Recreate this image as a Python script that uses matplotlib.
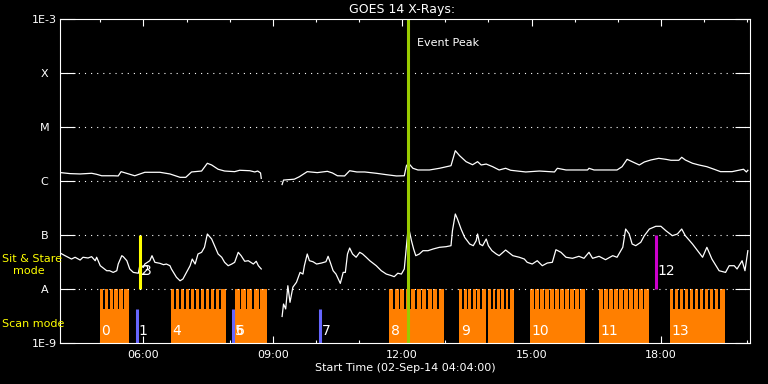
import numpy as np
import matplotlib
matplotlib.use("Agg")
import matplotlib.pyplot as plt
from matplotlib.ticker import NullLocator

nan = np.nan
# time axis: minutes after 02-Sep-14 04:04:00
long_t = [1, 14, 28, 44, 51, 58, 74, 81, 85, 104, 118, 139, 153, 167, 175, 183, 197, 205, 211, 220,
          229, 243, 250, 264, 271, 275, 279, 280, nan, 309, 311, 326, 333, 344, 358, 372, 379, 386, 396,
          403, 413, 424, 440, 454, 468, 479, 482, 485, 491, 498, 514, 528, 544, 550, 556, 565, 574, 581,
          586, 593, 602, 611, 620, 627, 648, 667, 688, 692, 704, 734, 736, 743, 775, 782, 789, 796, 806,
          813, 822, 833, 843, 850, 861, 865, 870, 880, 889, 900, 910, 919, 935, 951, 955, 957]
long_f = [1.43, 1.37, 1.35, 1.39, 1.33, 1.25, 1.25, 1.24, 1.49, 1.25, 1.45, 1.45, 1.35, 1.17, 1.17, 1.47,
          1.53, 2.13, 1.98, 1.65, 1.53, 1.49, 1.58, 1.55, 1.47, 1.53, 1.41, 1.12, nan, 0.86, 1.04, 1.08,
          1.20, 1.49, 1.43, 1.51, 1.41, 1.25, 1.24, 1.55, 1.47, 1.47, 1.39, 1.31, 1.24, 1.25, 1.92, 2.13,
          1.72, 1.60, 1.60, 1.72, 1.92, 3.64, 2.94, 2.28, 2.00, 2.28, 1.98, 2.06, 1.84, 1.60, 1.72, 1.58,
          1.47, 1.53, 1.47, 1.72, 1.60, 1.60, 1.72, 1.60, 1.60, 1.84, 2.52, 2.28, 1.98, 2.25, 2.45, 2.63,
          2.52, 2.42, 2.42, 2.75, 2.45, 2.13, 1.98, 1.84, 1.65, 1.49, 1.49, 1.65, 1.47, 1.58]  # x1e-6 W/m2

short_t = [1, 7, 16, 21, 28, 32, 39, 44, 49, 51, 56, 65, 69, 74, 79, 81, 86, 88, 93, 97, 102, 109, 111,
           116, 118, 125, 128, 132, 139, 144, 148, 153, 155, 162, 167, 171, 176, 181, 184, 188, 192, 197,
           201, 205, 211, 215, 220, 225, 229, 234, 239, 243, 248, 252, 257, 262, 269, 273, 276, 280, nan,
           309, 311, 314, 317, 320, 324, 329, 334, 338, 340, 344, 347, 352, 357, 364, 370, 373, 376, 380,
           384, 390, 394, 397, 400, 403, 407, 412, 417, 421, 426, 431, 440, 447, 454, 461, 465, 470, 475,
           479, 482, 484, 486, 489, 492, 495, 500, 505, 512, 519, 528, 537, 544, 546, 550, 553, 558, 563,
           570, 575, 579, 581, 584, 588, 593, 596, 601, 607, 611, 620, 630, 639, 646, 650, 657, 664, 671,
           678, 685, 690, 697, 704, 713, 722, 729, 736, 741, 750, 759, 769, 775, 783, 787, 792, 796, 801,
           808, 813, 820, 829, 836, 843, 852, 859, 865, 870, 880, 894, 900, 907, 917, 926, 931, 938, 942,
           949, 953, 957]
short_f = [0.458, 0.414, 0.359, 0.387, 0.344, 0.387, 0.375, 0.397, 0.334, 0.387, 0.270, 0.218, 0.218,
           0.203, 0.218, 0.290, 0.414, 0.397, 0.334, 0.235, 0.203, 0.196, 0.270, 0.252, 0.290, 0.334,
           0.414, 0.312, 0.299, 0.282, 0.290, 0.270, 0.235, 0.165, 0.142, 0.153, 0.203, 0.270, 0.359,
           0.290, 0.445, 0.478, 0.592, 1.044, 0.843, 0.634, 0.445, 0.387, 0.312, 0.270, 0.290, 0.312,
           0.478, 0.414, 0.326, 0.334, 0.290, 0.326, 0.270, 0.235, nan,
           0.0310, 0.0527, 0.0427, 0.115, 0.0566, 0.108, 0.133, 0.203, 0.189, 0.270, 0.445, 0.334, 0.320,
           0.290, 0.303, 0.320, 0.403, 0.312, 0.218, 0.189, 0.127, 0.203, 0.203, 0.445, 0.574, 0.445,
           0.387, 0.478, 0.445, 0.387, 0.334, 0.270, 0.218, 0.189, 0.177, 0.169, 0.196, 0.189, 0.235,
           0.634, 1.20, 1.20, 0.784, 0.550, 0.414, 0.445, 0.512, 0.512, 0.550, 0.592, 0.607, 0.634, 1.20,
           2.45, 1.98, 1.29, 0.906, 0.681, 0.634, 0.784, 1.044, 0.681, 0.634, 0.843, 0.634, 0.512, 0.445,
           0.414, 0.527, 0.414, 0.387, 0.359, 0.312, 0.290, 0.334, 0.270, 0.303, 0.312, 0.534, 0.478,
           0.387, 0.370, 0.403, 0.370, 0.478, 0.370, 0.403, 0.349, 0.414, 0.387, 0.592, 1.29, 1.044,
           0.681, 0.634, 0.732, 0.971, 1.29, 1.45, 1.45, 1.20, 0.971, 1.044, 1.29, 0.971, 0.681, 0.387,
           0.592, 0.359, 0.218, 0.203, 0.270, 0.270, 0.235, 0.334, 0.218, 0.512]  # x1e-7 W/m2

# scan-mode raster groups
scan_start = [55.6, 154.2, 243.1, 458.3, 555.6, 595.8, 654.2, 750.0, 848.6]
scan_end = [95.8, 230.6, 287.5, 534.7, 593.0, 631.9, 730.6, 819.4, 925.0]
scan_rasters = [6, 11, 5, 10, 6, 6, 11, 10, 11]
# short scans (blue)
short_scan_t = [107.6, 241.0, 361.8]
# sit & stare observations
sns_t = [111.1, 829.2]
sns_colors = ['#ffff00', '#cc00cc']
peak_t = 484.7

event_labels = ['0', '1', '2', '3', '4', '5', '6', '7', '8', '9', '10', '11', '12', '13']
event_label_t = [55.6, 107.6, 111.1, 113.0, 154.2, 241.0, 243.1, 361.8, 458.3, 555.6, 654.2, 750.0,
                 829.2, 848.6]
event_is_sns = [False, False, True, True, False, False, False, False, False, False, False, False,
                True, False]

ytick_vals = [1e-9, 1e-8, 1e-7, 1e-6, 1e-5, 1e-4, 1e-3]
ytick_labels = ['1E-9', 'A', 'B', 'C', 'M', 'X', '1E-3']
xtick_major = [116, 296, 476, 656, 836]
xtick_labels = ['06:00', '09:00', '12:00', '15:00', '18:00']
xtick_minor = [56, 176, 236, 356, 416, 536, 596, 716, 776, 896, 956]

orange = '#ff7f00'
fig = plt.figure(figsize=(7.68, 3.84), dpi=100, facecolor='black')
ax = fig.add_axes([60 / 768, 41 / 384, 690 / 768, 324 / 384])
ax.set_facecolor('black')
ax.set_yscale('log')
ax.set_ylim(1e-9, 1e-3)
ax.set_xlim(0, 960)

solid_top = 4.26e-9
gap = 2.0
for s, e, n in zip(scan_start, scan_end, scan_rasters):
    ax.bar(s, solid_top - 1e-9, bottom=1e-9, width=e - s, align='edge', color=orange, lw=0, zorder=2)
    p = (e - s) / n
    for i in range(n):
        w = p - gap if i < n - 1 else p
        ax.bar(s + i * p, 1e-8 - 1e-9, bottom=1e-9, width=w, align='edge', color=orange, lw=0, zorder=2)

ax.vlines(short_scan_t, 1e-9, solid_top, colors='#6666ff', lw=2.2, zorder=3)
ax.vlines(sns_t, 1e-8, 1e-7, colors=sns_colors, lw=2.2, zorder=4)

ax.plot(long_t, np.array(long_f) * 1e-6, color='white', lw=0.9, zorder=3)
ax.plot(short_t, np.array(short_f) * 1e-7, color='white', lw=0.9, zorder=3)

ax.hlines(ytick_vals[1:-1], 0, 960, colors='white', linestyles=(0, (1, 4.5)), lw=0.8, zorder=5)
ax.axvline(peak_t, color='#99cc00', lw=2.2, zorder=6)
ax.annotate('Event Peak', xy=(peak_t, 0.926), xycoords=('data', 'axes fraction'), xytext=(6, 0),
            textcoords='offset points', va='center', ha='left', color='white', fontsize=8)

for lab, t, sns in zip(event_labels, event_label_t, event_is_sns):
    yv = 2.15e-8 if sns else 1.67e-9
    ax.annotate(lab, xy=(t, yv), xytext=(1, 0), textcoords='offset points', ha='left', va='center',
                color='white', fontsize=10, zorder=7)

for sp in ax.spines.values():
    sp.set_color('white')
    sp.set_linewidth(0.8)
    sp.set_zorder(8)

ax.set_yticks(ytick_vals)
ax.set_yticklabels(ytick_labels)
ax.yaxis.set_minor_locator(NullLocator())
ax.tick_params(axis='y', which='major', direction='in', length=10.8, width=0.8, colors='white',
               left=True, right=True, labelsize=8, pad=11.2)
for lbl in ax.get_yticklabels():
    lbl.set_horizontalalignment('center')

ax.set_xticks(xtick_major)
ax.set_xticklabels(xtick_labels)
ax.set_xticks(xtick_minor, minor=True)
ax.tick_params(axis='x', which='major', direction='in', length=5, width=0.8, colors='white',
               top=True, bottom=True, labelsize=8, pad=5)
ax.tick_params(axis='x', which='minor', direction='in', length=2.5, width=0.8, colors='white',
               top=True, bottom=True)

fig.text(402 / 768, 1 - 9.5 / 384, 'GOES 14 X-Rays:', color='white', fontsize=9, ha='center', va='center')
fig.text(405 / 768, 1 - 368 / 384, 'Start Time (02-Sep-14 04:04:00)', color='white', fontsize=8,
         ha='center', va='center')
fig.text(2 / 768, 1 - 259 / 384, 'Sit & Stare', color='#ffff00', fontsize=8, ha='left', va='center')
fig.text(13 / 768, 1 - 271 / 384, 'mode', color='#ffff00', fontsize=8, ha='left', va='center')
fig.text(2 / 768, 1 - 324 / 384, 'Scan mode', color='#ffff00', fontsize=8, ha='left', va='center')

fig.savefig('out.png', dpi=100, facecolor='black')
